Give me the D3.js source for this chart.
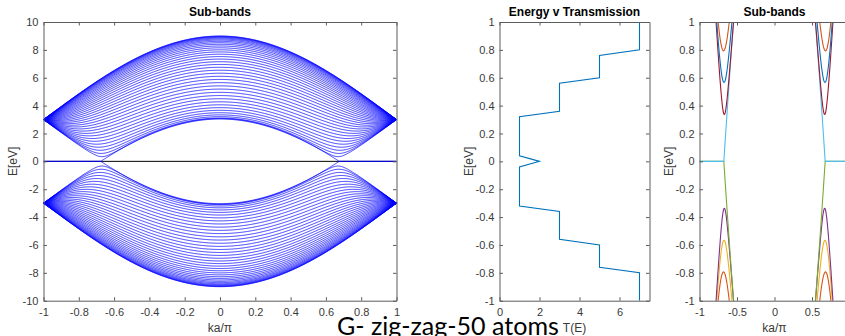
<!DOCTYPE html>
<html>
<head>
<meta charset="utf-8">
<script src="https://cdn.jsdelivr.net/npm/d3@7"></script>
<style>
  body { margin: 0; background: #fff; overflow: hidden; }
  text { font-family: "Liberation Sans", Arial, sans-serif; }
</style>
</head>
<body>
<script>
// ---- values ----
const kTicks = [-1, -0.8, -0.6, -0.4, -0.2, 0, 0.2, 0.4, 0.6, 0.8, 1];
const kTicksZoom = [-1, -0.5, 0, 0.5];   // the tick at 1 falls past the picture's edge
const eTicksWide = [-10, -8, -6, -4, -2, 0, 2, 4, 6, 8, 10];
const eTicksNarrow = [-1, -0.8, -0.6, -0.4, -0.2, 0, 0.2, 0.4, 0.6, 0.8, 1];
const tTicks = [0, 2, 4, 6];

// transmission staircase (energy, T)
const transE = [-1, -0.8, -0.76, -0.6, -0.56, -0.36, -0.32, -0.04, 0, 0.04, 0.32, 0.36, 0.56, 0.6, 0.76, 0.8, 1];
const transT = [7, 7, 5, 5, 3, 3, 1, 1, 2, 1, 1, 3, 3, 5, 5, 7, 7];

// tight-binding sub-bands: bands meet at +-3 eV at the zone edge, top at 9 eV
const hopping = 3;      // eV
const chains = 40;      // sub-bands per half (39 bulk + 1 edge state)
const matlabColors = ['#0072BD', '#D95319', '#EDB120', '#7E2F8E', '#77AC30', '#4DBEEE', '#A2142F'];

const kSamples = d3.range(-1, 1.00001, 0.004);

function bulkBand(n) {
  const delta = (n + 0.45) * Math.PI / (chains + 0.5);
  return kSamples.map(k => {
    const g = 2 * Math.cos(Math.PI * k / 2);
    return [k, hopping * Math.sqrt(Math.max(0, 1 + g * g - 2 * g * Math.cos(delta)))];
  });
}
function edgeBand() {
  const gc = chains / (chains + 1);
  return kSamples.map(k => [k, hopping * Math.max(0, 2 * Math.cos(Math.PI * k / 2) - gc)]);
}

// bands ordered from lowest to highest energy (sets the colour cycle)
const bands = [];
for (let n = chains - 1; n >= 1; n--) bands.push(bulkBand(n).map(([k, e]) => [k, -e]));
bands.push(edgeBand().map(([k, e]) => [k, -e]));
bands.push(edgeBand());
for (let n = 1; n <= chains - 1; n++) bands.push(bulkBand(n));

// ---- drawing ----
const W = 845, H = 336;
const yTop = 22, yBottom = 300.7;
const axisColor = '#5c5c5c', labelColor = '#3a3a3a';

const svg = d3.select('body').append('svg').attr('width', W).attr('height', H);
const defs = svg.append('defs');

function panel(id, x0, x1, xDomain, yDomain, xt, yt, title, xlabel) {
  const x = d3.scaleLinear().domain(xDomain).range([x0, x1]);
  const y = d3.scaleLinear().domain(yDomain).range([yBottom, yTop]);
  defs.append('clipPath').attr('id', id)
    .append('rect').attr('x', x0).attr('y', yTop).attr('width', x1 - x0).attr('height', yBottom - yTop);
  const plot = svg.append('g').attr('clip-path', `url(#${id})`);

  const fmt = d => String(d);
  const style = g => {
    g.attr('font-size', 11).attr('font-family', '"Liberation Sans", Arial, sans-serif');
    g.selectAll('path.domain').attr('stroke', axisColor);
    g.selectAll('line').attr('stroke', axisColor);
    g.selectAll('text').attr('fill', labelColor);
  };
  const axes = svg.append('g');
  axes.append('g').attr('transform', `translate(0,${yBottom})`)
    .call(d3.axisBottom(x).tickValues(xt).tickSize(-3.5).tickSizeOuter(0).tickPadding(8).tickFormat(fmt)).call(style);
  axes.append('g').attr('transform', `translate(0,${yTop})`)
    .call(d3.axisTop(x).tickValues(xt).tickSize(-3.5).tickSizeOuter(0).tickFormat('')).call(style);
  axes.append('g').attr('transform', `translate(${x0},0)`)
    .call(d3.axisLeft(y).tickValues(yt).tickSize(-3.5).tickSizeOuter(0).tickPadding(5).tickFormat(fmt)).call(style);
  axes.append('g').attr('transform', `translate(${x1},0)`)
    .call(d3.axisRight(y).tickValues(yt).tickSize(-3.5).tickSizeOuter(0).tickFormat('')).call(style);

  svg.append('text').attr('x', (x0 + x1) / 2).attr('y', 16).attr('text-anchor', 'middle')
    .attr('font-size', 12).attr('font-weight', 'bold').attr('fill', '#000').text(title);
  svg.append('text').attr('transform', `translate(${x0 - 27},${(yTop + yBottom) / 2}) rotate(-90)`)
    .attr('text-anchor', 'middle').attr('font-size', 12).attr('fill', labelColor).text('E[eV]');
  svg.append('text').attr('x', (x0 + x1) / 2).attr('y', 332).attr('text-anchor', 'middle')
    .attr('font-size', 12).attr('fill', labelColor).text(xlabel);

  return { x, y, plot };
}

// left: full band structure
const A = panel('clipA', 43.5, 396.5, [-1, 1], [-10, 10], kTicks, eTicksWide, 'Sub-bands', 'ka/\u03c0');
const lineA = d3.line().x(d => A.x(d[0])).y(d => A.y(d[1]));
A.plot.append('line').attr('x1', A.x(-1)).attr('x2', A.x(1)).attr('y1', A.y(0)).attr('y2', A.y(0))
  .attr('stroke', '#000').attr('stroke-width', 1);
A.plot.selectAll('path.band').data(bands).join('path').attr('class', 'band')
  .attr('d', lineA).attr('fill', 'none').attr('stroke', '#0000ff').attr('stroke-width', 0.75);

// middle: transmission
const B = panel('clipB', 499.5, 649.5, [0, 7.5], [-1, 1], tTicks, eTicksNarrow, 'Energy v Transmission', 'T(E)');
const lineB = d3.line().x((d, i) => B.x(transT[i])).y(d => B.y(d));
B.plot.append('path').attr('d', lineB(transE)).attr('fill', 'none')
  .attr('stroke', '#0072BD').attr('stroke-width', 1.1);

// right: zoom on low-energy sub-bands
const C = panel('clipC', 699.5, 849.5, [-1, 1], [-1, 1], kTicksZoom, eTicksNarrow, 'Sub-bands', 'ka/\u03c0');
const lineC = d3.line().x(d => C.x(d[0])).y(d => C.y(Math.max(-3, Math.min(3, d[1]))));
C.plot.selectAll('path.band').data(bands).join('path').attr('class', 'band')
  .attr('d', lineC).attr('fill', 'none')
  .attr('stroke', (d, i) => matlabColors[i % 7]).attr('stroke-width', 1.1);

// caption
const cap = svg.append('text').attr('x', 337).attr('y', 335)
  .style('font-family', 'Lato, "Open Sans", sans-serif').attr('font-size', 22).attr('fill', '#000')
  .text('G- zig-zag-50 atoms');
const len = cap.node().getComputedTextLength();
cap.attr('font-size', 22 * 222 / len);
</script>
</body>
</html>
